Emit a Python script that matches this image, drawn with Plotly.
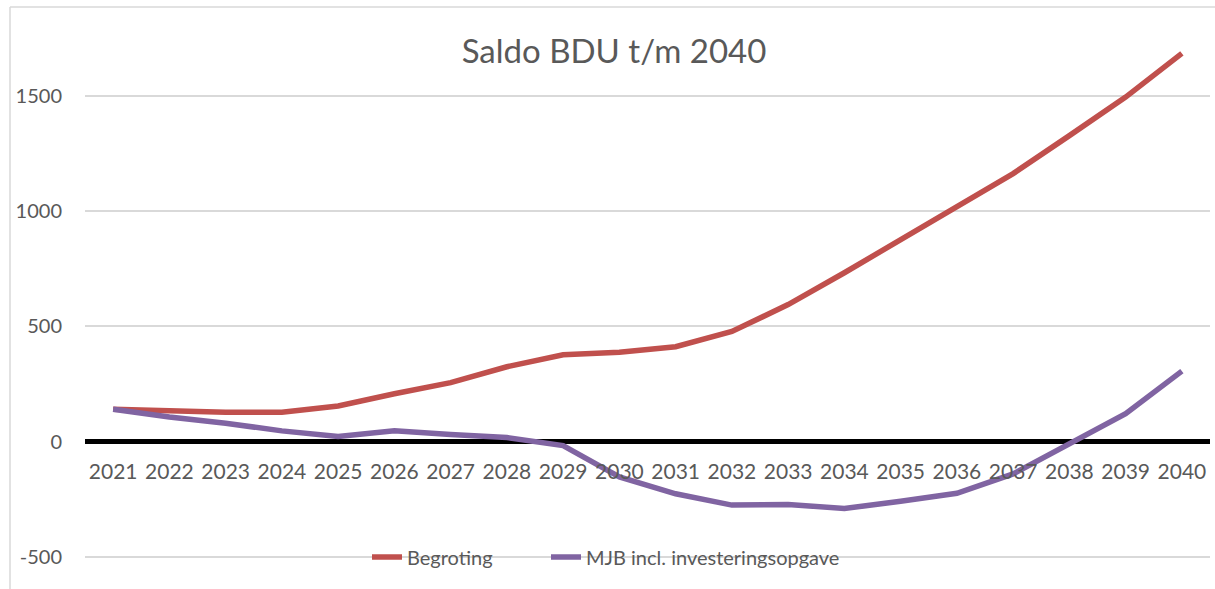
import plotly.graph_objects as go

years = [str(y) for y in range(2021, 2041)]
begroting = [141, 132, 128, 128, 155, 208, 256, 325, 377, 388,
             412, 478, 595, 733, 876, 1015, 1163, 1328, 1495, 1685]
mjb = [141, 107, 80, 47, 23, 47, 31, 18, -17, -153,
       -226, -275, -272, -290, -258, -224, -140, -10, 122, 306]
ytick_vals = [-500, 0, 500, 1000, 1500]
ytick_text = ["-500", "0", "500", "1000", "1500"]

W, H = 1215, 589
L, R = 85, 5
zero_px = 441.7
px_per_unit = 0.2305
y_top = zero_px / px_per_unit
y_bot = -(H - zero_px) / px_per_unit

FONT = "Lato"
TXT = "#595959"

fig = go.Figure()
fig.add_trace(go.Scatter(x=years, y=begroting, mode="lines", name="Begroting",
                         line=dict(color="#C0504D", width=5.5), legend="legend"))
fig.add_trace(go.Scatter(x=years, y=mjb, mode="lines", name="MJB incl. investeringsopgave",
                         line=dict(color="#8064A2", width=5.5), legend="legend2"))

pw = W - L - R
leg_common = dict(orientation="h", xanchor="left", y=(H - 557) / H, yanchor="middle",
                  bgcolor="rgba(0,0,0,0)", font=dict(size=20, color=TXT))
fig.update_layout(
    width=W, height=H,
    margin=dict(l=L, r=R, t=0, b=0),
    paper_bgcolor="white", plot_bgcolor="white",
    font=dict(family=FONT, color=TXT, size=20),
    title=dict(text="Saldo BDU t/m 2040", x=614 / W, xanchor="center",
               y=1 - 51 / H, yanchor="middle", font=dict(size=33, color=TXT)),
    showlegend=True,
    legend=dict(x=(367 - L) / pw, **leg_common),
    legend2=dict(x=(546 - L) / pw, **leg_common),
    xaxis=dict(type="category", range=[-0.5, 19.5], anchor="free",
               position=(H - zero_px) / H, showline=False, showgrid=False,
               ticks="", ticklabelstandoff=15, tickfont=dict(size=21, color=TXT)),
    yaxis=dict(range=[y_bot, y_top], tickvals=ytick_vals, ticktext=ytick_text,
               showgrid=True, gridcolor="#d9d9d9", gridwidth=1.5, zeroline=True,
               zerolinecolor="black", zerolinewidth=5, showline=False,
               ticks="", ticklabelstandoff=22, tickfont=dict(size=20, color=TXT)),
    shapes=[
        dict(type="line", xref="paper", yref="paper",
             x0=(10 - L) / pw, x1=(W - L) / pw, y0=(H - 7) / H, y1=(H - 7) / H,
             line=dict(color="#d9d9d9", width=1.5)),
        dict(type="line", xref="paper", yref="paper",
             x0=(10 - L) / pw, x1=(10 - L) / pw, y0=0, y1=(H - 7) / H,
             line=dict(color="#d9d9d9", width=1.5)),
    ],
)

fig.write_html("out.html", config={"displayModeBar": False},
               post_script="document.body.style.margin='0';document.body.style.overflow='hidden';")
